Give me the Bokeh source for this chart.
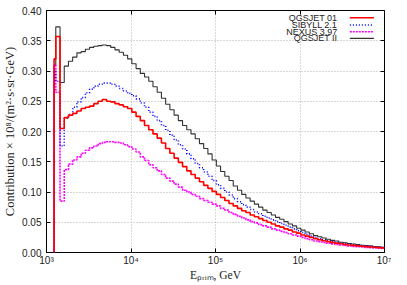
from bokeh.plotting import figure
from bokeh.models import (FixedTicker, LogAxis, LinearAxis, Range1d, Arrow,
                          CustomJSTickFormatter, NumeralTickFormatter, Label)
from bokeh.embed import file_html
from bokeh.resources import INLINE

# ---- data (histogram bins in log10(E/GeV)) ----
log_first_edge = 3.09
log_bin_start = 3.11
log_bin_width = 0.05
n_full_bins = 78
log_edges = [log_first_edge] + [round(log_bin_start + log_bin_width * k, 3) for k in range(n_full_bins + 1)]

qgsjet01 = [0.320, 0.357, 0.205, 0.223, 0.227, 0.230, 0.234, 0.238, 0.240, 0.242, 0.246, 0.250, 0.253,
            0.250, 0.249, 0.246, 0.244, 0.241, 0.238, 0.232, 0.225, 0.218, 0.210, 0.203, 0.196, 0.189,
            0.181, 0.172, 0.164, 0.156, 0.149, 0.142, 0.135, 0.129, 0.123, 0.117, 0.111, 0.106, 0.101,
            0.096, 0.091, 0.086, 0.081, 0.077, 0.073, 0.069, 0.066, 0.062, 0.059, 0.056, 0.053, 0.050,
            0.047, 0.044, 0.042, 0.039, 0.037, 0.034, 0.032, 0.029, 0.027, 0.025, 0.023, 0.021, 0.0195,
            0.018, 0.0167, 0.0155, 0.0144, 0.0134, 0.0125, 0.0117, 0.011, 0.0103, 0.0097, 0.0091,
            0.0086, 0.0081, 0.0076]

sibyll21 = [0.300, 0.283, 0.176, 0.222, 0.228, 0.240, 0.249, 0.256, 0.264, 0.270, 0.275, 0.278, 0.280,
            0.280, 0.278, 0.275, 0.271, 0.267, 0.263, 0.259, 0.254, 0.247, 0.240, 0.232, 0.225, 0.218,
            0.210, 0.202, 0.194, 0.186, 0.178, 0.171, 0.163, 0.155, 0.147, 0.140, 0.133, 0.126, 0.119,
            0.112, 0.106, 0.100, 0.095, 0.089, 0.084, 0.079, 0.075, 0.071, 0.067, 0.064, 0.060, 0.057,
            0.054, 0.051, 0.048, 0.045, 0.042, 0.039, 0.036, 0.033, 0.030, 0.027, 0.025, 0.023, 0.021,
            0.0195, 0.018, 0.017, 0.0155, 0.0145, 0.0135, 0.0127, 0.012, 0.0113, 0.0106, 0.010,
            0.0094, 0.0088, 0.0082]

nexus397 = [0.310, 0.265, 0.085, 0.137, 0.146, 0.153, 0.158, 0.164, 0.169, 0.173, 0.176, 0.180, 0.182,
            0.183, 0.183, 0.182, 0.181, 0.178, 0.175, 0.171, 0.166, 0.158, 0.152, 0.145, 0.140, 0.135,
            0.129, 0.123, 0.118, 0.113, 0.108, 0.103, 0.100, 0.096, 0.093, 0.089, 0.086, 0.083, 0.080,
            0.077, 0.073, 0.070, 0.066, 0.063, 0.060, 0.057, 0.054, 0.051, 0.049, 0.046, 0.044, 0.042,
            0.039, 0.037, 0.035, 0.033, 0.031, 0.029, 0.027, 0.025, 0.023, 0.021, 0.019, 0.018, 0.0165,
            0.0153, 0.0142, 0.0132, 0.0123, 0.0115, 0.0108, 0.0101, 0.0095, 0.009, 0.0085, 0.008,
            0.0076, 0.0072, 0.0068]

qgsjet2 = [0.310, 0.373, 0.281, 0.308, 0.316, 0.323, 0.330, 0.332, 0.336, 0.339, 0.341, 0.342, 0.343,
           0.342, 0.339, 0.335, 0.331, 0.326, 0.320, 0.312, 0.304, 0.296, 0.290, 0.283, 0.274, 0.265,
           0.255, 0.245, 0.236, 0.227, 0.218, 0.210, 0.203, 0.196, 0.188, 0.180, 0.172, 0.163, 0.153,
           0.143, 0.134, 0.126, 0.119, 0.110, 0.103, 0.096, 0.090, 0.085, 0.080, 0.075, 0.070, 0.066,
           0.062, 0.058, 0.055, 0.051, 0.047, 0.044, 0.040, 0.037, 0.034, 0.031, 0.028, 0.026, 0.024,
           0.022, 0.020, 0.019, 0.017, 0.016, 0.015, 0.014, 0.013, 0.012, 0.0115, 0.011, 0.010,
           0.0095, 0.0085]

series_names = ["QGSJET 01", "SIBYLL 2.1", "NEXUS 3.97", "QGSJET II"]
series_values = [qgsjet01, sibyll21, nexus397, qgsjet2]
series_colors = ["#ff0000", "#0000ff", "#ff00ff", "#333333"]
series_dash = ["solid", "1 2", "2 1", "solid"]
series_width = [1.6, 1.6, 1.6, 1.1]

y_ticks = [0.0, 0.05, 0.10, 0.15, 0.20, 0.25, 0.30, 0.35, 0.40]
x_ticks = [1e3, 1e4, 1e5, 1e6, 1e7]

# ---- figure ----
p = figure(width=391, height=283, x_axis_type="log", output_backend="svg", toolbar_location=None,
           x_range=Range1d(1e3, 1e7), y_range=Range1d(0, 0.4),
           min_border_left=38, min_border_right=7, min_border_top=10, min_border_bottom=10)
p.outline_line_color = "black"
p.outline_line_width = 1
p.background_fill_color = "white"

edges = [10 ** e for e in log_edges]
draw_order = [3, 2, 1, 0]
for i in draw_order:
    vals = series_values[i]
    xs = [edges[0]] + edges
    ys = [0.0] + vals + [vals[-1]]
    p.step(xs, ys, mode="after", line_color=series_colors[i], line_width=series_width[i],
           line_dash=series_dash[i])

label_font = "Liberation Sans"
serif = "Liberation Serif"
tick_color = "#222222"

xa = p.xaxis[0]
xa.ticker = FixedTicker(ticks=x_ticks)
xa.formatter = CustomJSTickFormatter(code="""
const sup = {"0":"\u2070","1":"\u00b9","2":"\u00b2","3":"\u00b3","4":"\u2074","5":"\u2075","6":"\u2076","7":"\u2077","8":"\u2078","9":"\u2079"};
const e = Math.round(Math.log10(tick));
return "10" + String(e).split("").map(c => sup[c]).join("");
""")
ya = p.yaxis[0]
ya.ticker = FixedTicker(ticks=y_ticks)
ya.formatter = NumeralTickFormatter(format="0.00")
for ax in (xa, ya):
    ax.major_tick_in = 4
    ax.major_tick_out = 0
    ax.minor_tick_in = 0
    ax.minor_tick_out = 0
    ax.axis_line_color = None
    ax.major_tick_line_color = "black"
    ax.major_label_text_font = label_font
    ax.major_label_text_font_size = "10px"
    ax.major_label_text_color = tick_color
xa.major_label_standoff = 2
ya.major_label_standoff = 5
ya.axis_label = "Contribution \u00d7 10\u2078/(m\u00b2\u00b7s\u00b7sr\u00b7GeV)"
ya.axis_label_text_font = serif
ya.axis_label_text_font_style = "normal"
ya.axis_label_text_font_size = "12.5px"
ya.axis_label_text_color = tick_color
ya.axis_label_standoff = 2

xa.axis_label = "E\u209a\u1d63\u1d62\u2098, GeV"
xa.axis_label_text_font = serif
xa.axis_label_text_font_style = "normal"
xa.axis_label_text_font_size = "11.5px"
xa.axis_label_text_color = tick_color
xa.axis_label_standoff = 0

# mirrored ticks on top and right (no labels)
top = LogAxis(ticker=FixedTicker(ticks=x_ticks), formatter=CustomJSTickFormatter(code="return '';"),
              major_label_text_font_size="1px",
              major_tick_in=4, major_tick_out=0, minor_tick_in=0, minor_tick_out=0,
              axis_line_color=None, major_label_standoff=0)
right = LinearAxis(ticker=FixedTicker(ticks=y_ticks), formatter=CustomJSTickFormatter(code="return '';"),
                   major_label_text_font_size="1px",
                   major_tick_in=4, major_tick_out=0, minor_tick_in=0, minor_tick_out=0,
                   axis_line_color=None, major_label_standoff=0)
p.add_layout(top, "above")
p.add_layout(right, "right")

p.xgrid.ticker = FixedTicker(ticks=x_ticks)
for g in (p.xgrid[0], p.ygrid[0]):
    g.grid_line_color = "#b0b0b0"
    g.grid_line_dash = "1 2"
    g.grid_line_width = 1

# legend (text right-aligned, line sample to its right), placed in data units
legend_text_right = 10 ** 6.44
legend_line_x0 = 10 ** 6.59
legend_line_x1 = 10 ** 6.875
legend_rows_y = [0.388, 0.376, 0.365, 0.354]
for k in range(4):
    yk = legend_rows_y[k]
    p.add_layout(Label(x=legend_text_right, y=yk, text=series_names[k], text_font=label_font,
                       text_font_size="9px", text_color=tick_color, text_align="right",
                       text_baseline="middle"))
    p.add_layout(Arrow(x_start=legend_line_x0, y_start=yk, x_end=legend_line_x1, y_end=yk,
                       start=None, end=None, line_color=series_colors[k],
                       line_width=series_width[k], line_dash=series_dash[k]))

open("out.html", "w").write(file_html(p, INLINE))
